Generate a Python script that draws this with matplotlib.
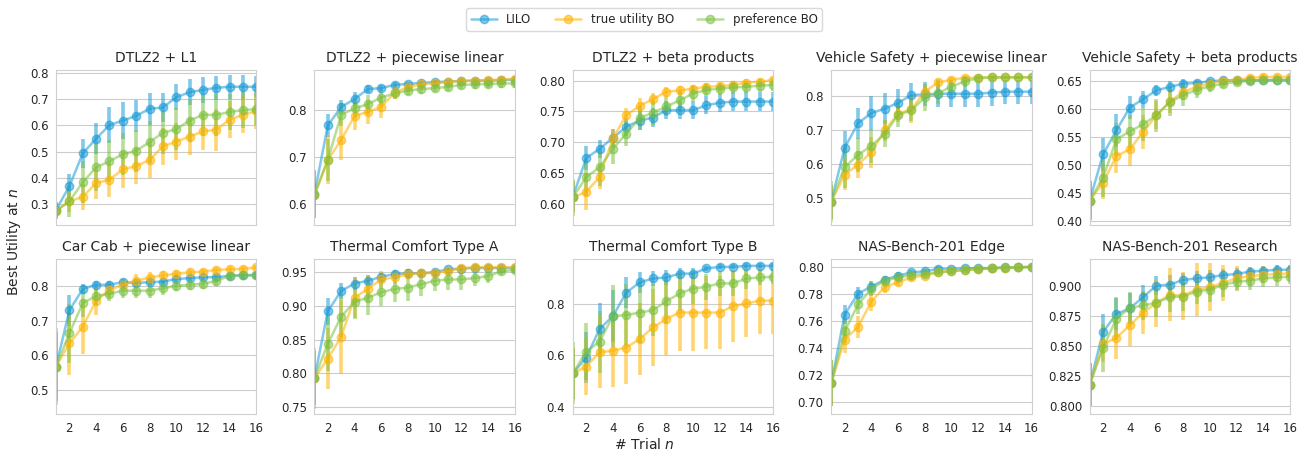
import matplotlib
matplotlib.use("Agg")
import matplotlib.pyplot as plt
import numpy as np
import seaborn as sns
from matplotlib.lines import Line2D
from matplotlib.ticker import MultipleLocator

sns.set_style("whitegrid")
plt.rcParams['font.family'] = ['DejaVu Sans']

trials = np.arange(1, 17)
methods = ["LILO", "true utility BO", "preference BO"]
colors = ["#1a9bd7", "#ffb300", "#7cc242"]

titles = ["DTLZ2 + L1", "DTLZ2 + piecewise linear", "DTLZ2 + beta products",
          "Vehicle Safety + piecewise linear", "Vehicle Safety + beta products",
          "Car Cab + piecewise linear", "Thermal Comfort Type A", "Thermal Comfort Type B",
          "NAS-Bench-201 Edge", "NAS-Bench-201 Research"]

# mean best utility per panel: [LILO, true utility BO, preference BO]
dtlz2_l1 = [
    [0.278, 0.368, 0.493, 0.549, 0.601, 0.618, 0.636, 0.663, 0.668, 0.707, 0.726, 0.735, 0.743, 0.747, 0.747, 0.747],
    [0.275, 0.31, 0.328, 0.38, 0.393, 0.432, 0.445, 0.468, 0.52, 0.538, 0.557, 0.577, 0.583, 0.622, 0.64, 0.655],
    [0.275, 0.31, 0.383, 0.44, 0.463, 0.49, 0.503, 0.536, 0.572, 0.585, 0.618, 0.64, 0.64, 0.651, 0.658, 0.662]]
dtlz2_pl = [
    [0.622, 0.767, 0.806, 0.823, 0.844, 0.846, 0.853, 0.855, 0.857, 0.859, 0.86, 0.861, 0.862, 0.862, 0.863, 0.864],
    [0.62, 0.694, 0.736, 0.787, 0.796, 0.806, 0.837, 0.848, 0.854, 0.856, 0.859, 0.861, 0.862, 0.863, 0.864, 0.866],
    [0.62, 0.694, 0.79, 0.803, 0.812, 0.826, 0.835, 0.841, 0.844, 0.846, 0.849, 0.853, 0.854, 0.855, 0.856, 0.856]]
dtlz2_beta = [
    [0.611, 0.674, 0.689, 0.707, 0.725, 0.735, 0.74, 0.752, 0.752, 0.752, 0.76, 0.764, 0.766, 0.766, 0.766, 0.766],
    [0.61, 0.619, 0.643, 0.706, 0.744, 0.759, 0.77, 0.782, 0.784, 0.787, 0.79, 0.791, 0.793, 0.797, 0.798, 0.801],
    [0.61, 0.643, 0.659, 0.689, 0.714, 0.739, 0.748, 0.758, 0.768, 0.779, 0.785, 0.787, 0.789, 0.79, 0.792, 0.793]]
vs_pl = [
    [0.49, 0.648, 0.72, 0.75, 0.763, 0.78, 0.803, 0.805, 0.807, 0.807, 0.807, 0.807, 0.81, 0.813, 0.813, 0.813],
    [0.49, 0.568, 0.599, 0.635, 0.699, 0.748, 0.761, 0.813, 0.84, 0.848, 0.854, 0.854, 0.855, 0.855, 0.855, 0.855],
    [0.49, 0.591, 0.627, 0.654, 0.689, 0.745, 0.758, 0.796, 0.808, 0.828, 0.843, 0.853, 0.855, 0.855, 0.855, 0.855]]
vs_beta = [
    [0.436, 0.519, 0.562, 0.603, 0.618, 0.634, 0.64, 0.646, 0.647, 0.65, 0.652, 0.652, 0.652, 0.652, 0.652, 0.652],
    [0.436, 0.468, 0.516, 0.528, 0.559, 0.589, 0.614, 0.631, 0.64, 0.646, 0.651, 0.653, 0.656, 0.658, 0.658, 0.658],
    [0.436, 0.477, 0.546, 0.56, 0.573, 0.589, 0.613, 0.625, 0.635, 0.641, 0.646, 0.649, 0.651, 0.652, 0.653, 0.653]]
carcab_pl = [
    [0.568, 0.73, 0.792, 0.804, 0.804, 0.812, 0.809, 0.812, 0.813, 0.821, 0.823, 0.826, 0.826, 0.83, 0.832, 0.832],
    [0.568, 0.635, 0.683, 0.758, 0.789, 0.804, 0.816, 0.825, 0.831, 0.836, 0.84, 0.842, 0.847, 0.849, 0.85, 0.854],
    [0.568, 0.664, 0.751, 0.772, 0.778, 0.787, 0.787, 0.787, 0.794, 0.801, 0.804, 0.807, 0.815, 0.83, 0.831, 0.831]]
thermal_a = [
    [0.793, 0.892, 0.922, 0.933, 0.937, 0.943, 0.947, 0.948, 0.948, 0.95, 0.954, 0.955, 0.956, 0.956, 0.956, 0.956],
    [0.793, 0.822, 0.854, 0.912, 0.925, 0.939, 0.942, 0.947, 0.948, 0.949, 0.951, 0.956, 0.957, 0.957, 0.957, 0.957],
    [0.793, 0.844, 0.884, 0.906, 0.912, 0.92, 0.925, 0.927, 0.932, 0.937, 0.939, 0.939, 0.941, 0.944, 0.951, 0.953]]
thermal_b = [
    [0.53, 0.591, 0.702, 0.752, 0.843, 0.883, 0.898, 0.902, 0.917, 0.917, 0.937, 0.943, 0.943, 0.947, 0.947, 0.947],
    [0.53, 0.556, 0.612, 0.618, 0.63, 0.663, 0.708, 0.741, 0.766, 0.766, 0.766, 0.766, 0.791, 0.801, 0.812, 0.812],
    [0.53, 0.614, 0.653, 0.752, 0.756, 0.766, 0.775, 0.81, 0.84, 0.859, 0.866, 0.879, 0.879, 0.898, 0.902, 0.905]]
nas_edge = [
    [0.7136, 0.7645, 0.780, 0.7853, 0.7904, 0.7934, 0.7958, 0.7966, 0.7983, 0.7983, 0.7988, 0.799, 0.799, 0.7995, 0.7995, 0.80],
    [0.7136, 0.746, 0.7553, 0.7742, 0.7848, 0.7885, 0.7921, 0.7934, 0.7958, 0.797, 0.7975, 0.7983, 0.7988, 0.7993, 0.7995, 0.80],
    [0.7136, 0.7521, 0.772, 0.7836, 0.7897, 0.7921, 0.7939, 0.7946, 0.7958, 0.7966, 0.7975, 0.7983, 0.7988, 0.7993, 0.7995, 0.7998]]
nas_research = [
    [0.8174, 0.8614, 0.8763, 0.881, 0.8904, 0.90, 0.9008, 0.9047, 0.906, 0.9069, 0.9088, 0.9096, 0.9116, 0.9124, 0.9132, 0.9132],
    [0.8174, 0.8512, 0.8565, 0.8669, 0.8774, 0.8857, 0.8923, 0.8917, 0.8967, 0.8986, 0.9022, 0.9063, 0.9077, 0.909, 0.9096, 0.9102],
    [0.8174, 0.8482, 0.8724, 0.8813, 0.8835, 0.8857, 0.8904, 0.8909, 0.895, 0.8967, 0.9005, 0.9033, 0.9041, 0.906, 0.9069, 0.9074]]

# error bar half-widths, same layout
dtlz2_l1_err = [
    [0.03, 0.045, 0.055, 0.06, 0.07, 0.07, 0.06, 0.06, 0.055, 0.05, 0.05, 0.05, 0.045, 0.045, 0.045, 0.04],
    [0.03, 0.04, 0.05, 0.06, 0.065, 0.07, 0.07, 0.07, 0.07, 0.07, 0.07, 0.07, 0.08, 0.07, 0.07, 0.07],
    [0.03, 0.06, 0.08, 0.09, 0.08, 0.08, 0.08, 0.08, 0.08, 0.08, 0.08, 0.08, 0.08, 0.07, 0.07, 0.06]]
dtlz2_pl_err = [
    [0.05, 0.025, 0.015, 0.015, 0.008, 0.006, 0.005, 0.005, 0.005, 0.005, 0.004, 0.004, 0.004, 0.004, 0.004, 0.004],
    [0.05, 0.05, 0.042, 0.03, 0.025, 0.023, 0.015, 0.01, 0.008, 0.007, 0.006, 0.006, 0.005, 0.005, 0.005, 0.005],
    [0.05, 0.045, 0.025, 0.02, 0.02, 0.018, 0.013, 0.01, 0.01, 0.009, 0.009, 0.009, 0.009, 0.009, 0.009, 0.009]]
dtlz2_beta_err = [
    [0.025, 0.02, 0.015, 0.015, 0.015, 0.015, 0.015, 0.015, 0.015, 0.015, 0.015, 0.015, 0.015, 0.015, 0.015, 0.015],
    [0.025, 0.03, 0.02, 0.015, 0.012, 0.012, 0.01, 0.008, 0.008, 0.006, 0.006, 0.006, 0.005, 0.005, 0.005, 0.005],
    [0.03, 0.03, 0.03, 0.025, 0.02, 0.02, 0.02, 0.015, 0.015, 0.012, 0.01, 0.01, 0.01, 0.01, 0.01, 0.01]]
vs_pl_err = [
    [0.05, 0.05, 0.045, 0.05, 0.045, 0.04, 0.035, 0.035, 0.04, 0.04, 0.04, 0.04, 0.04, 0.035, 0.035, 0.035],
    [0.05, 0.045, 0.04, 0.045, 0.03, 0.025, 0.04, 0.02, 0.01, 0.008, 0.006, 0.005, 0.005, 0.005, 0.005, 0.005],
    [0.06, 0.06, 0.05, 0.05, 0.04, 0.035, 0.03, 0.04, 0.03, 0.02, 0.015, 0.008, 0.006, 0.005, 0.005, 0.005]]
vs_beta_err = [
    [0.035, 0.03, 0.03, 0.02, 0.015, 0.01, 0.01, 0.008, 0.006, 0.005, 0.004, 0.004, 0.004, 0.004, 0.004, 0.004],
    [0.03, 0.03, 0.03, 0.03, 0.03, 0.025, 0.02, 0.015, 0.01, 0.008, 0.006, 0.005, 0.005, 0.005, 0.005, 0.005],
    [0.035, 0.035, 0.03, 0.03, 0.03, 0.03, 0.025, 0.02, 0.015, 0.01, 0.008, 0.006, 0.005, 0.005, 0.005, 0.005]]
carcab_pl_err = [
    [0.1, 0.045, 0.015, 0.01, 0.01, 0.01, 0.01, 0.01, 0.01, 0.01, 0.01, 0.01, 0.01, 0.01, 0.01, 0.01],
    [0.1, 0.09, 0.08, 0.04, 0.02, 0.015, 0.02, 0.015, 0.012, 0.01, 0.01, 0.008, 0.008, 0.008, 0.008, 0.008],
    [0.11, 0.085, 0.04, 0.025, 0.02, 0.02, 0.02, 0.02, 0.02, 0.015, 0.015, 0.015, 0.015, 0.012, 0.012, 0.01]]
thermal_a_err = [
    [0.04, 0.02, 0.012, 0.01, 0.008, 0.006, 0.006, 0.006, 0.005, 0.005, 0.004, 0.004, 0.003, 0.003, 0.003, 0.003],
    [0.04, 0.045, 0.055, 0.03, 0.02, 0.012, 0.01, 0.008, 0.006, 0.005, 0.005, 0.004, 0.004, 0.004, 0.004, 0.003],
    [0.045, 0.04, 0.03, 0.025, 0.025, 0.02, 0.02, 0.02, 0.018, 0.015, 0.015, 0.015, 0.012, 0.01, 0.005, 0.005]]
thermal_b_err = [
    [0.1, 0.1, 0.1, 0.1, 0.06, 0.04, 0.03, 0.03, 0.02, 0.02, 0.01, 0.01, 0.01, 0.01, 0.01, 0.01],
    [0.1, 0.11, 0.14, 0.14, 0.14, 0.14, 0.15, 0.14, 0.15, 0.15, 0.14, 0.14, 0.14, 0.13, 0.13, 0.13],
    [0.12, 0.11, 0.12, 0.12, 0.12, 0.12, 0.1, 0.09, 0.07, 0.06, 0.05, 0.05, 0.05, 0.04, 0.03, 0.03]]
nas_edge_err = [
    [0.017, 0.007, 0.005, 0.004, 0.003, 0.003, 0.002, 0.002, 0.002, 0.001, 0.001, 0.001, 0.001, 0.001, 0.001, 0.001],
    [0.017, 0.01, 0.008, 0.007, 0.004, 0.003, 0.003, 0.002, 0.002, 0.002, 0.001, 0.001, 0.001, 0.001, 0.001, 0.001],
    [0.017, 0.009, 0.007, 0.005, 0.003, 0.003, 0.002, 0.002, 0.002, 0.002, 0.001, 0.001, 0.001, 0.001, 0.001, 0.001]]
nas_research_err = [
    [0.018, 0.015, 0.013, 0.013, 0.01, 0.008, 0.008, 0.006, 0.006, 0.006, 0.005, 0.005, 0.004, 0.004, 0.004, 0.004],
    [0.018, 0.015, 0.018, 0.017, 0.018, 0.02, 0.022, 0.02, 0.022, 0.02, 0.015, 0.01, 0.008, 0.007, 0.006, 0.006],
    [0.018, 0.02, 0.018, 0.013, 0.012, 0.012, 0.012, 0.012, 0.01, 0.01, 0.01, 0.008, 0.008, 0.007, 0.007, 0.006]]

means = [dtlz2_l1, dtlz2_pl, dtlz2_beta, vs_pl, vs_beta,
         carcab_pl, thermal_a, thermal_b, nas_edge, nas_research]
errs = [dtlz2_l1_err, dtlz2_pl_err, dtlz2_beta_err, vs_pl_err, vs_beta_err,
        carcab_pl_err, thermal_a_err, thermal_b_err, nas_edge_err, nas_research_err]

ylims = [(0.22, 0.81), (0.556, 0.884), (0.565, 0.817), (0.421, 0.876), (0.392, 0.670),
         (0.431, 0.878), (0.74, 0.969), (0.372, 0.973), (0.6908, 0.8056), (0.793, 0.922)]
ysteps = [0.1, 0.1, 0.05, 0.1, 0.05, 0.1, 0.05, 0.2, 0.02, 0.025]

fig, axes = plt.subplots(2, 5, figsize=(13.15, 4.53), dpi=100, sharex=True)
fig.subplots_adjust(left=0.0426, right=0.981, top=0.845, bottom=0.086,
                    wspace=0.29, hspace=0.22)

for i, ax in enumerate(axes.flat):
    for m in range(3):
        ax.errorbar(trials, means[i][m], yerr=errs[i][m], color=colors[m],
                    marker='o', ms=6, lw=1.8, elinewidth=2.6, alpha=0.55)
    ax.set_title(titles[i], fontsize=10)
    ax.set_ylim(*ylims[i])
    ax.yaxis.set_major_locator(MultipleLocator(ysteps[i]))
    ax.grid(axis='x', visible=False)
    ax.tick_params(labelsize=8.5, pad=2)
    for s in ax.spines.values():
        s.set_color('#d0d0d0')

axes[0, 0].set_xlim(1, 16)
axes[0, 0].set_xticks(range(2, 17, 2))

# legend: line + marker only, no error bar
handles = [Line2D([], [], color=c, marker='o', ms=6, lw=1.8, alpha=0.55) for c in colors]
fig.legend(handles, methods, loc='center', bbox_to_anchor=(0.49, 0.957), ncol=3,
           fontsize=8.5, frameon=True, edgecolor='#d0d0d0', handlelength=2.2,
           columnspacing=2.0)

fig.text(0.49, 0.018, "# Trial $n$", ha='center', va='center', fontsize=10)
fig.text(0.011, 0.466, "Best Utility at $n$", ha='center', va='center',
         rotation=90, fontsize=10)

fig.savefig("out.png", dpi=100)
